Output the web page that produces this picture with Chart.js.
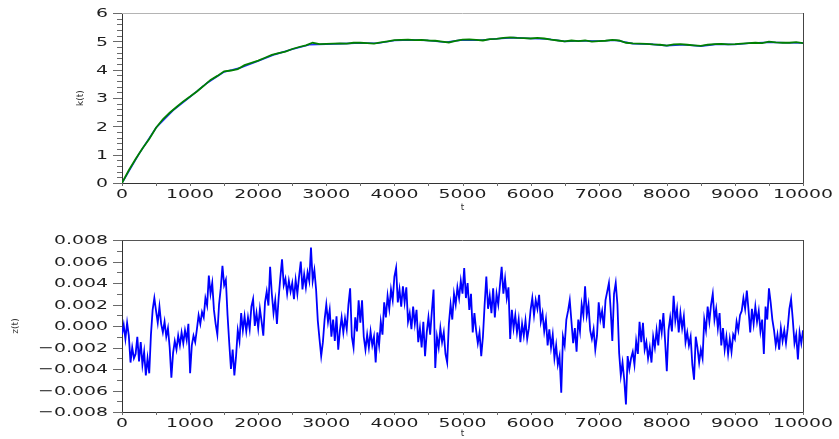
<!DOCTYPE html>
<html>
<head>
<meta charset="utf-8">
<script src="https://cdn.jsdelivr.net/npm/chart.js@4.4.0/dist/chart.umd.min.js"></script>
<style>
  html, body { margin: 0; padding: 0; background: #fff; }
  #wrap { position: relative; width: 839px; height: 439px; }
  .box { position: absolute; left: 0; width: 839px; }
  #top { top: 0; height: 220px; }
  #bot { top: 220px; height: 219px; }
</style>
</head>
<body>
<div id="wrap">
  <div class="box" id="top"><canvas id="kChart"></canvas></div>
  <div class="box" id="bot"><canvas id="zChart"></canvas></div>
</div>
<script>
// k(t): green sampled every 100, blue every 250
const kGreenStep = 100;
const kGreen = [
  0.00, 0.45, 0.85, 1.22, 1.55, 1.95, 2.25, 2.48, 2.68, 2.88,
  3.05, 3.23, 3.43, 3.64, 3.78, 3.94, 3.97, 4.02, 4.16, 4.24,
  4.32, 4.42, 4.52, 4.58, 4.64, 4.73, 4.80, 4.86, 4.95, 4.90,
  4.91, 4.92, 4.93, 4.92, 4.95, 4.95, 4.94, 4.92, 4.96, 5.00,
  5.04, 5.05, 5.06, 5.04, 5.05, 5.03, 5.02, 4.99, 4.96, 5.02,
  5.06, 5.07, 5.05, 5.03, 5.08, 5.09, 5.12, 5.14, 5.12, 5.11,
  5.10, 5.12, 5.10, 5.06, 5.03, 5.00, 5.03, 5.01, 5.03, 4.99,
  5.01, 5.02, 5.05, 5.03, 4.95, 4.93, 4.92, 4.91, 4.89, 4.88,
  4.85, 4.89, 4.90, 4.88, 4.86, 4.84, 4.88, 4.90, 4.91, 4.89,
  4.90, 4.92, 4.94, 4.95, 4.94, 4.99, 4.96, 4.95, 4.95, 4.97,
  4.94
];
const kBlueStep = 250;
const kBlue = [
  0.00, 1.03, 1.95, 2.56, 3.04, 3.53, 3.92, 4.08, 4.31, 4.54,
  4.72, 4.88, 4.90, 4.92, 4.94, 4.93, 5.03, 5.05, 5.03, 4.97,
  5.05, 5.04, 5.09, 5.13, 5.10, 5.08, 5.00, 5.02, 5.01, 5.04,
  4.92, 4.90, 4.85, 4.88, 4.83, 4.90, 4.89, 4.94, 4.97, 4.95,
  4.94
];

// z(t) in units of 1e-3, sampled every 25
const zStep = 25;
const zData = [
  -0.8, 0.1, -1.2, 0.3,   -0.9, -3.4, -2.0, -3.0,   -2.6, -1.0, -3.3, -1.5,   -3.6, -2.4, -4.6, -3.0,
  -4.4, -0.8, 1.5, 2.6,   1.4, 0.3, 1.8, 0.2,   -0.6, 0.4, -1.0, -0.2,   -2.0, -4.8, -2.5, -1.4,
  -2.2, -0.9, -1.8, -0.6,   -1.6, -0.4, -1.3, 0.2,   -4.4, -1.8, -0.9, -1.5,   -0.3, 1.0, 0.2, 1.3,
  0.8, 2.6, 1.9, 4.7,   3.0, 4.0, 1.5, 0.2,   -0.8, 2.0, 3.5, 5.6,   3.8, 4.3, 1.0, -1.6,
  -4.0, -2.2, -4.6, -2.8,   -0.4, -1.4, 1.2, -0.4,   0.9, -0.5, 0.8, -0.3,   1.8, 2.5, 0.0, 1.2,
  -0.2, 1.6, 0.4, -0.9,   2.2, 3.2, 1.9, 5.5,   3.0, 1.2, 2.4, 0.2,   2.6, 4.5, 6.2, 3.8,
  4.4, 3.0, 4.2, 3.2,   4.0, 2.5, 4.3, 3.0,   4.6, 6.0, 3.4, 4.8,   3.6, 5.0, 4.2, 7.3,
  4.2, 5.2, 3.4, 0.5,   -1.2, -2.8, -1.5, 0.6,   2.0, 0.4, 1.5, -1.0,   0.6, -1.4, 0.9, -2.2,
  -0.4, 0.8, -0.6, 0.7,   -0.3, 2.0, 3.5, -1.0,   -2.0, 0.8, -0.5, 2.4,   0.3, 2.4, -1.0, -2.2,
  -0.8, -2.0, -0.5, -1.8,   -1.0, -3.4, -0.6, -1.8,   0.4, -0.8, 2.2, 0.8,   2.8, 1.6, 3.4, 2.4,
  4.6, 5.4, 2.2, 3.4,   1.8, 3.7, 2.2, 3.6,   0.4, 1.2, -0.3, 1.8,   0.2, 1.5, -1.5, -0.2,
  -2.0, 0.4, -2.8, -0.6,   0.8, -0.8, 1.4, 3.4,   -3.9, -1.0, -2.0, -0.2,   -1.5, -0.6, -2.6, -3.4,
  0.2, 2.0, 0.6, 3.0,   2.0, 3.6, 2.6, 4.2,   3.0, 5.4, 2.6, 4.0,   1.5, 3.0, -0.6, 1.2,
  -0.4, -1.6, -0.6, -2.8,   -1.0, 2.0, 4.6, 1.6,   2.8, 1.2, 3.5, 0.8,   3.0, 2.0, 3.8, 5.5,
  3.0, 4.4, 2.6, 3.6,   -1.2, 1.5, -0.2, 1.0,   -0.6, 0.6, -1.5, 0.2,   -0.9, 0.5, -1.2, -0.2,
  1.5, 2.6, 1.0, 2.4,   1.6, 2.9, 0.4, 1.2,   -0.5, 0.6, -1.8, -0.3,   -2.0, -0.8, -3.0, -1.8,
  -3.6, -2.8, -6.2, -1.0,   -1.8, 0.6, 1.4, 2.4,   0.4, -1.6, -0.2, -2.4,   0.6, -0.5, 2.0, 1.0,
  3.7, 1.0, 2.0, -0.4,   -1.2, -0.3, -2.2, -0.9,   2.2, 0.6, 1.4, -0.2,   2.4, 3.2, 4.0, 1.6,
  -1.4, 3.0, 4.0, 2.0,   -2.5, -4.6, -3.4, -5.0,   -7.3, -2.8, -4.0, -3.0,   -2.4, -3.6, -1.4, -2.6,
  0.4, -1.5, 0.3, -2.2,   -1.5, -3.0, -2.0, -3.4,   -1.0, -2.0, -0.4, -1.8,   0.6, -0.6, 1.2, -1.4,
  -4.2, -0.4, 0.8, -0.5,   2.8, 0.5, 1.6, -0.6,   1.2, -0.2, 0.9, -1.5,   -0.6, -1.8, -1.0, -3.6,
  -5.0, -1.0, -2.0, -3.4,   -2.2, -3.0, 0.6, -0.4,   1.8, 0.4, 2.0, 3.0,   0.6, 1.6, -0.2, 1.2,
  -1.8, -0.2, -2.2, -1.0,   -2.6, -1.2, -2.4, -0.8,   -1.2, 0.4, -0.4, 1.0,   1.4, 2.6, 1.6, 3.3,
  1.5, -0.6, 1.6, 0.2,   1.8, 0.4, 1.4, -0.5,   0.6, -2.6, 1.8, 0.6,   3.5, 2.2, 0.6, -0.4,
  -1.8, -0.8, -2.2, -0.2,   -1.4, -0.4, -1.6, -0.2,   1.6, 2.5, 0.6, -1.6,   -0.8, -3.1, -0.6, -1.6,
  -0.4
];

const tTicks = [0, 1000, 2000, 3000, 4000, 5000, 6000, 7000, 8000, 9000, 10000];
const tTickLabels = ['0', '1000', '2000', '3000', '4000', '5000', '6000', '7000', '8000', '9000', '10000'];
const kTicks = [0, 1, 2, 3, 4, 5, 6];
const kTickLabels = ['0', '1', '2', '3', '4', '5', '6'];
const zTicks = [-8, -6, -4, -2, 0, 2, 4, 6, 8];
const zTickLabels = ['\u22120.008', '\u22120.006', '\u22120.004', '\u22120.002', '0.000',
                     '0.002', '0.004', '0.006', '0.008'];

// stretched tick lettering, tick marks, frame and axis titles
const decor = {
  id: 'decor',
  afterDraw(chart, args, o) {
    const ctx = chart.ctx, a = chart.chartArea;
    const xs = chart.scales.x, ys = chart.scales.y;
    ctx.save();
    ctx.lineWidth = 1;
    ctx.strokeStyle = '#6a6a6a';
    ctx.beginPath();
    for (let v = ys.min; v <= ys.max + 1e-9; v += o.yMinor) {
      const p = Math.round(ys.getPixelForValue(v)) + 0.5;
      const major = Math.abs(v / o.yMajor - Math.round(v / o.yMajor)) < 1e-6;
      ctx.moveTo(a.left - (major ? 9 : 5), p);
      ctx.lineTo(a.left, p);
    }
    for (let v = xs.min; v <= xs.max; v += 500) {
      const p = Math.round(xs.getPixelForValue(v)) + 0.5;
      ctx.moveTo(p, a.bottom);
      ctx.lineTo(p, a.bottom + 3);
    }
    ctx.stroke();
    // top and right frame
    ctx.beginPath();
    ctx.strokeStyle = o.topColor;
    ctx.moveTo(a.left, a.top + 0.5);
    ctx.lineTo(a.right, a.top + 0.5);
    ctx.stroke();
    ctx.beginPath();
    ctx.strokeStyle = '#444';
    ctx.moveTo(a.right + 0.5, a.top);
    ctx.lineTo(a.right + 0.5, a.bottom);
    ctx.stroke();

    // tick labels, horizontally stretched
    ctx.fillStyle = '#1e1e1e';
    ctx.font = '13px "DejaVu Sans"';
    ctx.textBaseline = 'middle';
    const sx = 1.45;
    tTicks.forEach((v, i) => {
      ctx.save();
      ctx.translate(xs.getPixelForValue(v), a.bottom + 11.5);
      ctx.scale(sx, 1);
      ctx.textAlign = 'center';
      ctx.fillText(tTickLabels[i], 0, 0);
      ctx.restore();
    });
    o.yTicks.forEach((v, i) => {
      ctx.save();
      ctx.translate(a.left - 14, ys.getPixelForValue(v) + 1);
      ctx.scale(sx, 1);
      ctx.textAlign = 'right';
      ctx.fillText(o.yLabels[i], 0, 0);
      ctx.restore();
    });

    // axis titles
    ctx.fillStyle = '#333';
    ctx.font = '9px "DejaVu Sans"';
    ctx.textAlign = 'center';
    ctx.fillText('t', (a.left + a.right) / 2, a.bottom + o.tGap);
    ctx.translate(o.yTitleX, (a.top + a.bottom) / 2);
    ctx.rotate(-Math.PI / 2);
    ctx.fillText(o.yTitle, 0, 0);
    ctx.restore();
  }
};

function xAxis(h) {
  return {
    type: 'linear', min: 0, max: 10000,
    afterBuildTicks: s => { s.ticks = tTicks.map(v => ({ value: v })); },
    afterFit: s => { s.height = h; },
    grid: { display: false },
    border: { display: true, color: '#333', width: 1 },
    ticks: { display: false }
  };
}

function yAxis(min, max, ticks) {
  return {
    min: min, max: max,
    afterBuildTicks: s => { s.ticks = ticks.map(v => ({ value: v })); },
    afterFit: s => { s.width = 122; },
    grid: { display: false },
    border: { display: true, color: '#333', width: 1 },
    ticks: { display: false }
  };
}

function baseOptions(pad, xh, y, deco) {
  return {
    responsive: true,
    maintainAspectRatio: false,
    animation: false,
    layout: { padding: pad },
    plugins: { legend: { display: false }, tooltip: { enabled: false }, decor: deco },
    elements: { point: { radius: 0 }, line: { tension: 0 } },
    scales: { x: xAxis(xh), y: y }
  };
}

new Chart(document.getElementById('kChart'), {
  type: 'line',
  data: {
    datasets: [
      { data: kGreen.map((v, i) => ({ x: i * kGreenStep, y: v })), borderColor: '#008000', borderWidth: 1.8 },
      { data: kBlue.map((v, i) => ({ x: i * kBlueStep, y: v })), borderColor: '#1f2fff', borderWidth: 1.6 }
    ]
  },
  options: baseOptions({ top: 13, right: 36, left: 0, bottom: 0 }, 37, yAxis(0, 6, kTicks),
    { yMinor: 0.2, yMajor: 1, yTicks: kTicks, yLabels: kTickLabels,
      topColor: '#b4b4b4', yTitle: 'k(t)', yTitleX: 81, tGap: 25 }),
  plugins: [decor]
});

new Chart(document.getElementById('zChart'), {
  type: 'line',
  data: {
    datasets: [
      { data: zData.map((v, i) => ({ x: i * zStep, y: v })), borderColor: '#0000ff', borderWidth: 1.8 }
    ]
  },
  options: baseOptions({ top: 20, right: 36, left: 0, bottom: 0 }, 27, yAxis(-8, 8, zTicks),
    { yMinor: 1, yMajor: 2, yTicks: zTicks, yLabels: zTickLabels,
      topColor: '#555', yTitle: 'z(t)', yTitleX: 16, tGap: 22 }),
  plugins: [decor]
});
</script>
</body>
</html>
